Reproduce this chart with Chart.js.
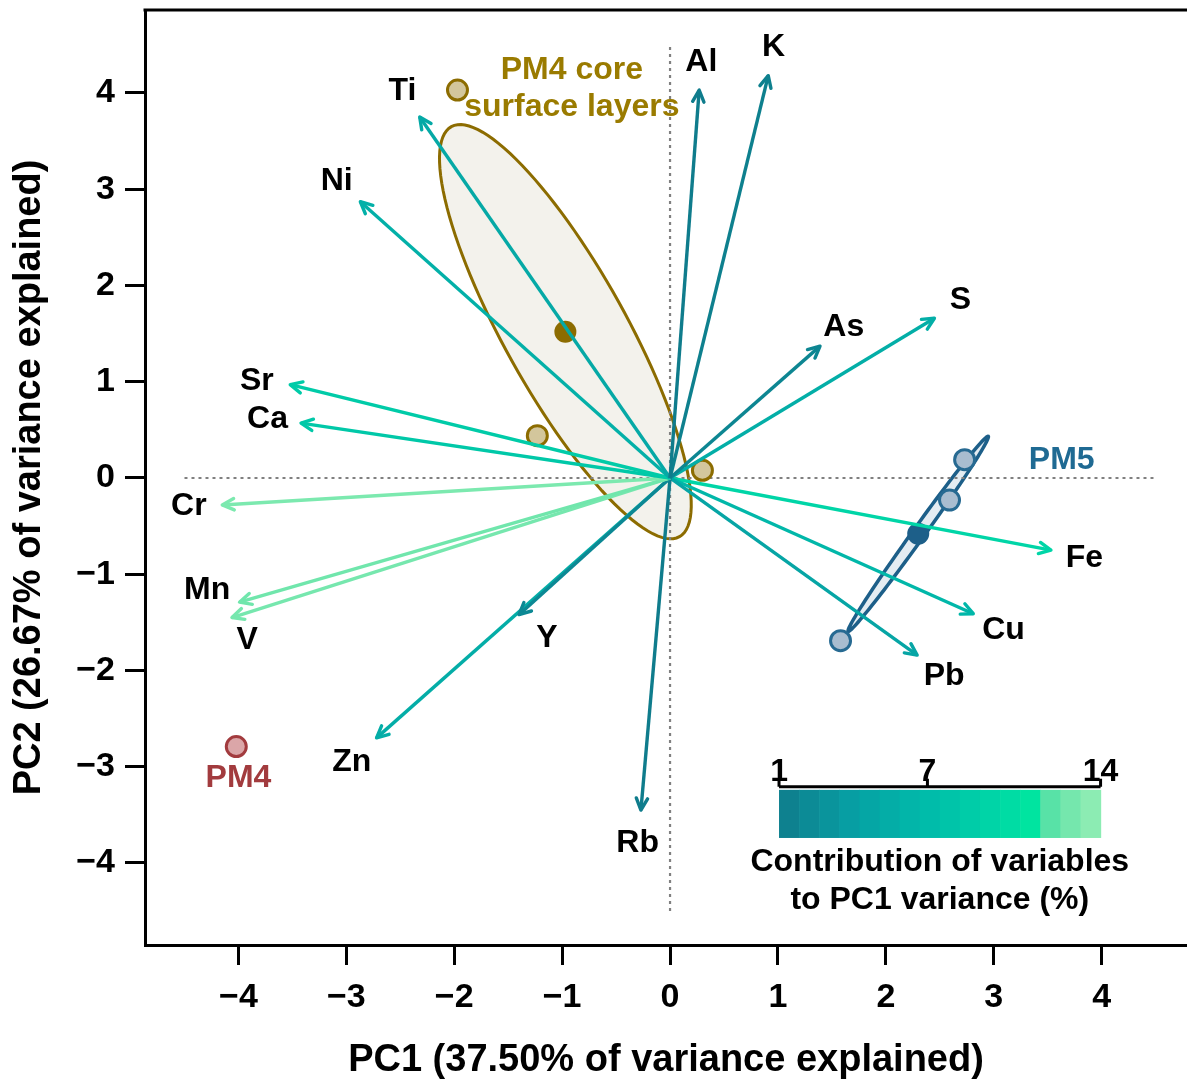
<!DOCTYPE html>
<html>
<head>
<meta charset="utf-8">
<script src="https://cdn.jsdelivr.net/npm/chart.js@4.4.1/dist/chart.umd.min.js"></script>
<style>
  html, body { margin: 0; padding: 0; background: #fff; }
  #wrap { width: 1187px; height: 1081px; }
</style>
</head>
<body>
<div id="wrap"><canvas id="biplot" width="1187" height="1081"></canvas></div>
<script>
// ─── DATA ─────────────────────────────────────────────────────────────────────
const VARS    = ["Al", "K", "Ti", "Ni", "As", "S", "Sr", "Ca", "Cr", "Mn", "V", "Y", "Zn", "Rb", "Pb", "Cu", "Fe"];
const PC1     = [0.27, 0.91, -2.32, -2.87, 1.39, 2.45, -3.52, -3.42, -4.15, -3.99, -4.06, -1.40, -2.72, -0.27, 2.29, 2.81, 3.53];
const PC2     = [4.03, 4.18, 3.75, 2.87, 1.37, 1.66, 0.97, 0.57, -0.28, -1.29, -1.45, -1.42, -2.70, -3.45, -1.84, -1.41, -0.75];
const CONTRIB = [1.0, 1.3, 5.0, 5.8, 1.8, 5.6, 8.6, 8.3, 13.0, 12.6, 12.8, 2.0, 5.4, 1.0, 4.6, 6.6, 9.6];
// label anchor for each variable name (data units)
const LABEL_X = [0.29, 0.96, -2.48, -3.09, 1.61, 2.69, -3.83, -3.73, -4.46, -4.29, -3.92, -1.14, -2.95, -0.30, 2.54, 3.09, 3.84];
const LABEL_Y = [4.32, 4.48, 4.02, 3.08, 1.57, 1.85, 1.01, 0.61, -0.29, -1.17, -1.68, -1.66, -2.95, -3.79, -2.06, -1.58, -0.83];

// individuals
const CORE_X = [-1.97, -1.23, 0.30];
const CORE_Y = [4.03, 0.44, 0.08];
const CORE_MEAN = [-0.97, 1.52];
const PM5_X = [2.73, 2.59, 1.58];
const PM5_Y = [0.19, -0.23, -1.69];
const PM5_MEAN = [2.30, -0.58];
const PM4_X = [-4.02];
const PM4_Y = [-2.79];

// confidence ellipses: centre plus two half-axis vectors (data units)
const CORE_ELLIPSE = { cx: -0.97, cy: 1.52, ux: 1.057, uy: -2.13, vx: 0.494, vy: 0.308 };
const PM5_ELLIPSE  = { cx: 2.30, cy: -0.58, ux: 0.649, uy: 1.013, vx: 0.045, vy: -0.036 };

const X_TICKS = [-4, -3, -2, -1, 0, 1, 2, 3, 4];
const Y_TICKS = [-4, -3, -2, -1, 0, 1, 2, 3, 4];
const X_RANGE = [-4.866, 4.791];
const Y_RANGE = [-4.852, 4.862];
const REF_LINE = [-4.5, 4.5];

// colour legend
const CBAR_RANGE = [1, 14];
const CBAR_TICKS = [1, 7, 14];
const CBAR_STOPS = [
  [1, "#0f7c8c"], [4, "#07a0a4"], [7, "#00bbaa"], [10, "#00d9a6"],
  [11.6, "#00e89e"], [12, "#5fe2a8"], [14, "#98efb6"]
];

// ─── HELPERS ──────────────────────────────────────────────────────────────────
const FONT = "'Liberation Sans', Arial, sans-serif";
const fmtTick = v => v < 0 ? "\u2212" + Math.abs(v) : String(v);

function hex(c) { return [1, 3, 5].map(i => parseInt(c.substr(i, 2), 16)); }
function contribColor(v) {
  if (v <= CBAR_STOPS[0][0]) return CBAR_STOPS[0][1];
  for (let i = 1; i < CBAR_STOPS.length; i++) {
    const [v1, c1] = CBAR_STOPS[i];
    const [v0, c0] = CBAR_STOPS[i - 1];
    if (v <= v1) {
      const t = (v - v0) / (v1 - v0);
      const a = hex(c0), b = hex(c1);
      return `rgb(${a.map((x, k) => Math.round(x + (b[k] - x) * t)).join(",")})`;
    }
  }
  return CBAR_STOPS[CBAR_STOPS.length - 1][1];
}

const pts = (xs, ys) => xs.map((x, i) => ({ x, y: ys[i] }));

// ─── DATASETS ─────────────────────────────────────────────────────────────────
const datasets = [];

// dotted reference lines
datasets.push({
  data: [{ x: REF_LINE[0], y: 0 }, { x: REF_LINE[1], y: 0 }],
  showLine: true, borderColor: "#808080", borderWidth: 2.2, borderDash: [3, 4],
  pointRadius: 0, order: 5,
});
datasets.push({
  data: [{ x: 0, y: REF_LINE[0] }, { x: 0, y: REF_LINE[1] }],
  showLine: true, borderColor: "#808080", borderWidth: 2.2, borderDash: [3, 4],
  pointRadius: 0, order: 5,
});

// individuals
datasets.push({ data: pts(CORE_X, CORE_Y), pointRadius: 10, pointBorderWidth: 3,
  pointBackgroundColor: "#d3c69c", pointBorderColor: "#8c6c00", order: 3 });
datasets.push({ data: [{ x: CORE_MEAN[0], y: CORE_MEAN[1] }], pointRadius: 11, pointBorderWidth: 0,
  pointBackgroundColor: "#8c6c00", order: 3 });
datasets.push({ data: pts(PM5_X, PM5_Y), pointRadius: 10, pointBorderWidth: 3,
  pointBackgroundColor: "#a9bdd0", pointBorderColor: "#276a92", order: 3 });
datasets.push({ data: [{ x: PM5_MEAN[0], y: PM5_MEAN[1] }], pointRadius: 11, pointBorderWidth: 0,
  pointBackgroundColor: "#1d5f89", order: 3 });
datasets.push({ data: pts(PM4_X, PM4_Y), pointRadius: 10, pointBorderWidth: 3,
  pointBackgroundColor: "#dba6a8", pointBorderColor: "#a23b3e", order: 3 });

// variable arrows
VARS.forEach((v, i) => {
  datasets.push({
    label: v,
    data: [{ x: 0, y: 0 }, { x: PC1[i], y: PC2[i] }],
    showLine: true, borderColor: contribColor(CONTRIB[i]), borderWidth: 3.4,
    pointRadius: 0, order: 1,
  });
});

// ─── PLUGINS ──────────────────────────────────────────────────────────────────
function ellipsePath(ctx, xs, ys, e) {
  ctx.beginPath();
  for (let i = 0; i <= 120; i++) {
    const t = i / 120 * Math.PI * 2;
    const px = xs.getPixelForValue(e.cx + e.ux * Math.cos(t) + e.vx * Math.sin(t));
    const py = ys.getPixelForValue(e.cy + e.uy * Math.cos(t) + e.vy * Math.sin(t));
    i ? ctx.lineTo(px, py) : ctx.moveTo(px, py);
  }
  ctx.closePath();
}

const ellipsePlugin = {
  id: "ellipses",
  beforeDatasetsDraw(chart) {
    const { ctx, scales: { x, y } } = chart;
    ctx.save();
    ellipsePath(ctx, x, y, CORE_ELLIPSE);
    ctx.fillStyle = "#f3f2ec"; ctx.fill();
    ctx.lineWidth = 3; ctx.strokeStyle = "#8c6c00"; ctx.stroke();
    ellipsePath(ctx, x, y, PM5_ELLIPSE);
    ctx.fillStyle = "#e4ecf2"; ctx.fill();
    ctx.lineWidth = 3.5; ctx.strokeStyle = "#1d5f89"; ctx.stroke();
    ctx.restore();
  }
};

const annotatePlugin = {
  id: "annotate",
  afterDatasetsDraw(chart) {
    const { ctx, scales: { x, y }, chartArea } = chart;
    const ox = x.getPixelForValue(0), oy = y.getPixelForValue(0);
    ctx.save();

    // arrow heads
    VARS.forEach((v, i) => {
      const tx = x.getPixelForValue(PC1[i]), ty = y.getPixelForValue(PC2[i]);
      const ang = Math.atan2(ty - oy, tx - ox);
      ctx.strokeStyle = contribColor(CONTRIB[i]);
      ctx.lineWidth = 3.4; ctx.lineCap = "round"; ctx.lineJoin = "round";
      ctx.beginPath();
      ctx.moveTo(tx - 13 * Math.cos(ang - 0.45), ty - 13 * Math.sin(ang - 0.45));
      ctx.lineTo(tx, ty);
      ctx.lineTo(tx - 13 * Math.cos(ang + 0.45), ty - 13 * Math.sin(ang + 0.45));
      ctx.stroke();
    });

    // variable names
    ctx.textAlign = "center"; ctx.textBaseline = "middle";
    ctx.font = `bold 32px ${FONT}`;
    ctx.fillStyle = "#000";
    VARS.forEach((v, i) => ctx.fillText(v, x.getPixelForValue(LABEL_X[i]), y.getPixelForValue(LABEL_Y[i])));

    // group names
    ctx.fillStyle = "#9a7b00";
    ctx.fillText("PM4 core", x.getPixelForValue(-0.91), y.getPixelForValue(4.24));
    ctx.fillText("surface layers", x.getPixelForValue(-0.91), y.getPixelForValue(3.85));
    ctx.fillStyle = "#1f6a93";
    ctx.fillText("PM5", x.getPixelForValue(3.63), y.getPixelForValue(0.19));
    ctx.fillStyle = "#a23b3e";
    ctx.fillText("PM4", x.getPixelForValue(-4.0), y.getPixelForValue(-3.12));

    // colour bar
    const bl = x.getPixelForValue(1.01), br = x.getPixelForValue(3.99);
    const bt = y.getPixelForValue(-3.24), bb = y.getPixelForValue(-3.74);
    const nBlocks = 16;
    for (let k = 0; k < nBlocks; k++) {
      const v = CBAR_RANGE[0] + (k + 0.5) / nBlocks * (CBAR_RANGE[1] - CBAR_RANGE[0]);
      ctx.fillStyle = contribColor(v);
      const x0 = bl + k / nBlocks * (br - bl);
      ctx.fillRect(x0, bt, (br - bl) / nBlocks + 0.6, bb - bt);
    }
    const cbx = v => bl + (v - CBAR_RANGE[0]) / (CBAR_RANGE[1] - CBAR_RANGE[0]) * (br - bl);
    ctx.strokeStyle = "#000"; ctx.lineWidth = 3; ctx.lineCap = "butt";
    ctx.beginPath();
    ctx.moveTo(bl, bt - 3); ctx.lineTo(br, bt - 3);
    CBAR_TICKS.forEach(t => { ctx.moveTo(cbx(t), bt - 3); ctx.lineTo(cbx(t), bt - 11); });
    ctx.stroke();
    ctx.fillStyle = "#000";
    ctx.textBaseline = "alphabetic";
    CBAR_TICKS.forEach(t => ctx.fillText(String(t), cbx(t), bt - 9));
    ctx.textBaseline = "middle";
    const cmid = (bl + br) / 2;
    ctx.fillText("Contribution of variables", cmid, bb + 24);
    ctx.fillText("to PC1 variance (%)", cmid, bb + 62);

    // top frame line
    ctx.strokeStyle = "#000"; ctx.lineWidth = 3;
    ctx.beginPath();
    ctx.moveTo(chartArea.left - 1.5, chartArea.top); ctx.lineTo(chart.width, chartArea.top);
    ctx.stroke();
    ctx.restore();
  }
};

// ─── CHART ────────────────────────────────────────────────────────────────────
const axisCommon = {
  type: "linear",
  grid: { drawOnChartArea: false, drawTicks: true, tickLength: 20, tickWidth: 3, tickColor: "#000" },
  border: { display: true, color: "#000", width: 3 },
  ticks: { color: "#000", font: { family: FONT, size: 34, weight: "bold" }, callback: fmtTick },
};
const noPad = s => { s.paddingTop = 0; s.paddingBottom = 0; s.paddingLeft = 0; s.paddingRight = 0; };

new Chart(document.getElementById("biplot"), {
  type: "scatter",
  data: { datasets },
  options: {
    responsive: false,
    animation: false,
    layout: { autoPadding: false, padding: { top: 10, right: 0, left: 0, bottom: 0 } },
    plugins: { legend: { display: false }, tooltip: { enabled: false } },
    scales: {
      x: {
        ...axisCommon,
        min: X_RANGE[0], max: X_RANGE[1],
        afterBuildTicks: s => { s.ticks = X_TICKS.map(v => ({ value: v })); },
        afterFit: s => { s.height = 136; noPad(s); },
        ticks: { ...axisCommon.ticks, padding: 12, maxRotation: 0 },
        title: { display: true, text: "PC1 (37.50% of variance explained)", color: "#000",
          font: { family: FONT, size: 38, weight: "bold" }, padding: { top: 14, bottom: -2 } },
      },
      y: {
        ...axisCommon,
        min: Y_RANGE[0], max: Y_RANGE[1],
        afterBuildTicks: s => { s.ticks = Y_TICKS.map(v => ({ value: v })); },
        afterFit: s => { s.width = 145; noPad(s); },
        ticks: { ...axisCommon.ticks, padding: 10 },
        title: { display: true, text: "PC2 (26.67% of variance explained)", color: "#000",
          font: { family: FONT, size: 38, weight: "bold" }, padding: { bottom: 0, top: 7 } },
      },
    },
  },
  plugins: [ellipsePlugin, annotatePlugin],
});
</script>
</body>
</html>
